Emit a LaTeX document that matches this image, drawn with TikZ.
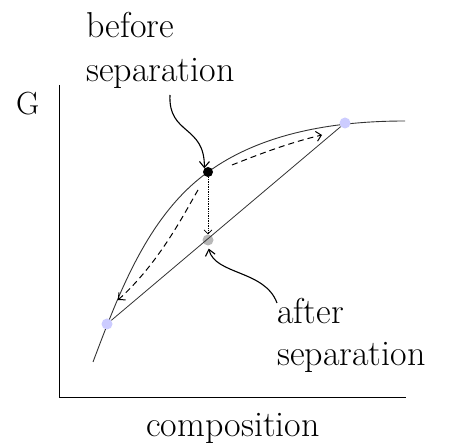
\documentclass[tikz,border=0pt]{standalone}
\usetikzlibrary{arrows.meta}
\begin{document}
\begin{tikzpicture}[x=1pt,y=-1pt,
  dot/.style={circle,inner sep=0pt,minimum size=11pt},
  lbl/.style={inner sep=0pt,align=left,font=\fontsize{36}{44}\selectfont},
  pointer/.style={line width=1.1pt,-{Straight Barb[length=6pt,width=10pt]}},
  move/.style={line width=1pt,dash pattern=on 6pt off 4pt,-{Straight Barb[length=5pt,width=10pt]}}]
\useasboundingbox (0,0) rectangle (461,446);
% axes
\draw[line width=0.9pt] (59,85) -- (59,397) -- (406,397);
\node[inner sep=0pt,anchor=base west,font=\fontsize{32}{34}\selectfont] (glabel) at (16,115) {G};
\node[lbl,anchor=base] (xlabel) at (233,437) {composition};
% free energy curve
\draw[line width=0.9pt,black!80] (93,362) .. controls (119,293) and (148,215) .. (208,172)
  .. controls (263,132) and (337,121) .. (405,121);
% points
\node[dot,fill=blue!20] (lo) at (107,324) {};
\node[dot,fill=blue!20] (hi) at (345,123) {};
\node[dot,fill=black,minimum size=10pt] (before) at (208,172) {};
\node[dot,fill=black!28] (after) at (208,240) {};
\draw[line width=0.8pt,black!80] (lo) -- (hi);
\draw[line width=0.7pt,densely dotted,-{Straight Barb[length=4pt,width=8pt]}] (before) -- (after);
% separation paths
\coordinate (rs) at (232,165);
\coordinate (re) at (322,135);
\coordinate (ls) at (198,190);
\coordinate (le) at (118,300);
\draw[move] (rs) .. controls (262,153) and (292,142) .. (re);
\draw[move] (ls) .. controls (185,212) and (160,262) .. (le);
% labels
\node[lbl,anchor=north west] (blabel) at (86,12) {before\\separation};
\node[lbl,anchor=north west,font=\fontsize{36}{42}\selectfont] (alabel) at (277,298) {after\\separation};
\coordinate (bstart) at (170,95);
\coordinate (astart) at (277,303);
\draw[pointer] (bstart) .. controls (168,135) and (205,125) .. (before.north west);
\draw[pointer,shorten >=3pt] (astart) .. controls (265,270) and (215,275) .. (after.south);
\end{tikzpicture}
\end{document}
